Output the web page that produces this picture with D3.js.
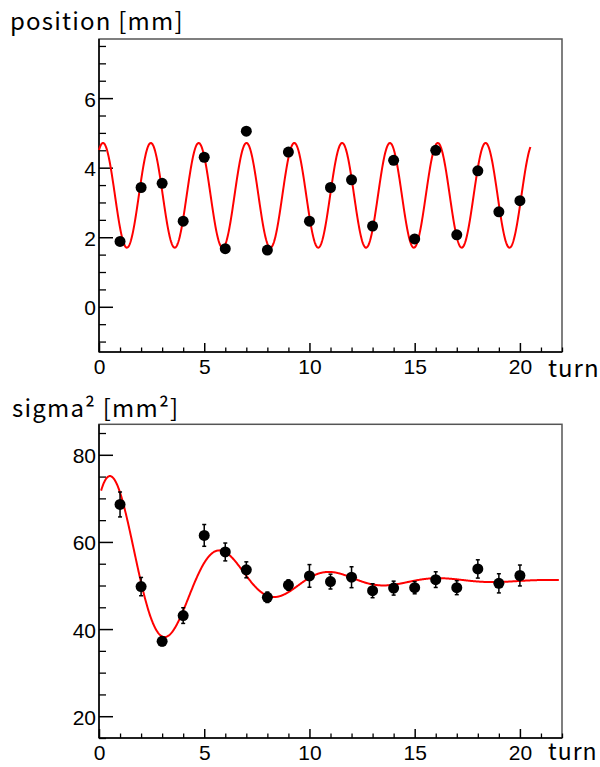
<!DOCTYPE html>
<html>
<head>
<meta charset="utf-8">
<script src="https://cdn.jsdelivr.net/npm/d3@7"></script>
<style>
  html, body { margin: 0; padding: 0; background: #fff; }
  svg { display: block; }
  text { font-family: "Liberation Sans", Arial, sans-serif; fill: #000; }
  .title { font-family: "Noto Sans CJK JP", "Liberation Sans", sans-serif; }
</style>
</head>
<body>
<svg id="chart" width="600" height="767"></svg>
<script>
// Turn number for every measurement
const turns = [1, 2, 3, 4, 5, 6, 7, 8, 9, 10, 11, 12, 13, 14, 15, 16, 17, 18, 19, 20];

// Beam centroid position per turn [mm]
const positionValues = [1.88, 3.43, 3.55, 2.46, 4.30, 1.67, 5.05, 1.63, 4.45, 2.46,
                        3.43, 3.65, 2.32, 4.21, 1.95, 4.50, 2.07, 3.91, 2.73, 3.05];

// Beam size squared per turn [mm^2] and its uncertainty
const sigma2Values = [68.6, 49.75, 37.2, 43.1, 61.5, 57.7, 53.6, 47.3, 50.1, 52.2,
                      50.9, 51.9, 48.8, 49.4, 49.5, 51.35, 49.5, 53.8, 50.5, 52.3];
const sigma2Errors = [2.86, 2.1, 1.0, 1.8, 2.5, 2.05, 1.83, 1.2, 1.2, 2.6,
                      1.7, 2.4, 1.6, 1.6, 1.4, 1.8, 1.6, 2.1, 2.2, 2.4];

// Fit results: position = mean + amp * cos(2*pi*(t - phase)/period)
const positionFit = { mean: 3.205, amp: 1.505, period: 2.2725, phase: 0.19, tMin: 0, tMax: 20.5 };
// Fit results: sigma^2 = base + amp * exp(-t/tau) * cos(2*pi*(t - phase)/period)
const sigma2Fit = { base: 51.1, amp: 27.7, tau: 4.2, period: 5.2, phase: 0.68, tMin: 0.1, tMax: 21.85 };

// Axis tick values
const xMajorTicks = [0, 5, 10, 15, 20];
const posMajorTicks = [0, 2, 4, 6];
const sigMajorTicks = [20, 40, 60, 80];

const svg = d3.select("#chart");

const frame = { left: 99, right: 562 };
const x = d3.scaleLinear().domain([0, 22]).range([frame.left, frame.right]);

function positionModel(t) {
  const p = positionFit;
  return p.mean + p.amp * Math.cos(2 * Math.PI * (t - p.phase) / p.period);
}
function sigma2Model(t) {
  const p = sigma2Fit;
  return p.base + p.amp * Math.exp(-t / p.tau) * Math.cos(2 * Math.PI * (t - p.phase) / p.period);
}

function drawPanel(cfg) {
  const g = svg.append("g");
  const y = d3.scaleLinear().domain(cfg.yDomain).range([cfg.bottom, cfg.top]);

  // frame
  g.append("rect")
    .attr("x", frame.left).attr("y", cfg.top)
    .attr("width", frame.right - frame.left).attr("height", cfg.bottom - cfg.top)
    .attr("fill", "none").attr("stroke", "#555").attr("stroke-width", 1.5);

  // minor x ticks (every turn)
  const xMinor = d3.range(0, 22.001, 1).filter(v => !xMajorTicks.includes(v));
  g.append("g").attr("transform", `translate(0,${cfg.bottom})`)
    .call(d3.axisBottom(x).tickValues(xMinor).tickSize(-4.5).tickFormat(""))
    .call(a => a.select(".domain").remove())
    .selectAll("line").attr("stroke", "#000").attr("stroke-width", 1.3);

  // major x ticks with labels
  const xa = g.append("g").attr("transform", `translate(0,${cfg.bottom})`)
    .call(d3.axisBottom(x).tickValues(xMajorTicks).tickSize(-9).tickFormat(d3.format("d")));
  xa.select(".domain").remove();
  xa.selectAll("line").attr("stroke", "#000").attr("stroke-width", 1.5);
  xa.selectAll("text").attr("y", 22).attr("dy", null)
    .style("font-size", "21px").attr("fill", "#000");

  // minor y ticks
  const yMinor = d3.range(cfg.minorStart, cfg.yDomain[1], cfg.minorStep)
    .filter(v => !cfg.majorTicks.some(m => Math.abs(m - v) < 1e-6));
  g.append("g").attr("transform", `translate(${frame.left},0)`)
    .call(d3.axisLeft(y).tickValues(yMinor).tickSize(-7).tickFormat(""))
    .call(a => a.select(".domain").remove())
    .selectAll("line").attr("stroke", "#000").attr("stroke-width", 1.3);

  // major y ticks with labels
  const ya = g.append("g").attr("transform", `translate(${frame.left},0)`)
    .call(d3.axisLeft(y).tickValues(cfg.majorTicks).tickSize(-14).tickFormat(d3.format("d")));
  ya.select(".domain").remove();
  ya.selectAll("line").attr("stroke", "#000").attr("stroke-width", 1.5);
  ya.selectAll("text").attr("x", -3).attr("dy", "0.38em")
    .style("font-size", "21px").attr("fill", "#000");

  // left and bottom axis lines
  g.append("line").attr("x1", frame.left).attr("x2", frame.left)
    .attr("y1", cfg.top).attr("y2", cfg.bottom).attr("stroke", "#000").attr("stroke-width", 1.5);
  g.append("line").attr("x1", frame.left).attr("x2", frame.right)
    .attr("y1", cfg.bottom).attr("y2", cfg.bottom).attr("stroke", "#000").attr("stroke-width", 1.5);

  // fitted curve
  const samples = d3.range(cfg.fit.tMin, cfg.fit.tMax, 0.02).concat([cfg.fit.tMax]);
  g.append("path")
    .datum(samples)
    .attr("fill", "none").attr("stroke", "#ff0000").attr("stroke-width", 2)
    .attr("d", d3.line().x(t => x(t)).y(t => y(cfg.model(t))));

  // error bars
  if (cfg.errors) {
    const eb = g.append("g").attr("stroke", "#000").attr("stroke-width", 1.5);
    turns.forEach((t, i) => {
      const v = cfg.values[i], e = cfg.errors[i];
      eb.append("line").attr("x1", x(t)).attr("x2", x(t)).attr("y1", y(v - e)).attr("y2", y(v + e));
      eb.append("line").attr("x1", x(t) - 2).attr("x2", x(t) + 2).attr("y1", y(v - e)).attr("y2", y(v - e));
      eb.append("line").attr("x1", x(t) - 2).attr("x2", x(t) + 2).attr("y1", y(v + e)).attr("y2", y(v + e));
    });
  }

  // data points
  g.append("g").selectAll("circle")
    .data(turns.map((t, i) => [t, cfg.values[i]]))
    .join("circle")
    .attr("cx", d => x(d[0])).attr("cy", d => y(d[1])).attr("r", 5.5)
    .attr("fill", "#000");

  // axis titles
  g.append("text").attr("class", "title")
    .attr("x", cfg.titleX).attr("y", cfg.titleY)
    .style("font-size", "24px").style("letter-spacing", "1.2px").text(cfg.title);
  g.append("text").attr("class", "title")
    .attr("x", 548).attr("y", cfg.bottom + cfg.turnOffset)
    .style("font-size", cfg.turnSize).style("letter-spacing", "1px").text("turn");
}

drawPanel({
  top: 39, bottom: 352, yDomain: [-1.3, 7.7],
  majorTicks: posMajorTicks, minorStart: -1, minorStep: 0.5,
  values: positionValues, errors: null,
  model: positionModel, fit: positionFit,
  title: "position [mm]", titleX: 10, titleY: 30,
  turnOffset: 25, turnSize: "24px"
});

drawPanel({
  top: 424.3, bottom: 738, yDomain: [15, 87],
  majorTicks: sigMajorTicks, minorStart: 15, minorStep: 5,
  values: sigma2Values, errors: sigma2Errors,
  model: sigma2Model, fit: sigma2Fit,
  title: "sigma² [mm²]", titleX: 12, titleY: 417,
  turnOffset: 22, turnSize: "23px"
});
</script>
</body>
</html>
